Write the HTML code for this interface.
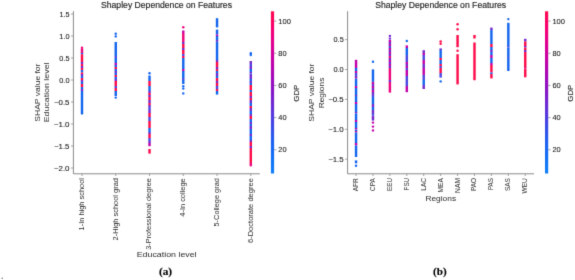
<!DOCTYPE html><html><head><meta charset="utf-8"><style>html,body{margin:0;padding:0;background:#fff;}svg{display:block;will-change:transform;}</style></head><body><svg width="575" height="280" viewBox="0 0 575 280">
<defs><linearGradient id="cb" x1="0" y1="1" x2="0" y2="0"><stop offset="0.000" stop-color="#1280fa"/><stop offset="0.100" stop-color="#1270f6"/><stop offset="0.200" stop-color="#2060f0"/><stop offset="0.300" stop-color="#3e48e6"/><stop offset="0.400" stop-color="#6430d8"/><stop offset="0.500" stop-color="#8418c6"/><stop offset="0.600" stop-color="#a408b8"/><stop offset="0.700" stop-color="#c400a6"/><stop offset="0.800" stop-color="#e00090"/><stop offset="0.900" stop-color="#f80070"/><stop offset="1.000" stop-color="#ff0a50"/></linearGradient><filter id="bl" x="0" y="0" width="575" height="280" filterUnits="userSpaceOnUse" color-interpolation-filters="sRGB"><feConvolveMatrix order="3" kernelMatrix="0.0121 0.0858 0.0121 0.0858 0.608 0.0858 0.0121 0.0858 0.0121" edgeMode="duplicate"/></filter></defs>
<g filter="url(#bl)">
<rect width="575" height="280" fill="#fff"/>
<g font-family='"Liberation Sans", sans-serif'>
<circle cx="82.00" cy="47.80" r="1.2" fill="#ec047c"/>
<rect x="80.80" y="48.50" width="2.4" height="4.50" fill="#ec047c"/>
<rect x="80.80" y="53.00" width="2.4" height="1.20" fill="#1264ee"/>
<rect x="80.80" y="54.20" width="2.4" height="7.80" fill="#ff0848"/>
<rect x="80.80" y="62.00" width="2.4" height="2.00" fill="#7228cc"/>
<rect x="80.80" y="64.00" width="2.4" height="2.00" fill="#ff0848"/>
<rect x="80.80" y="66.00" width="2.4" height="2.00" fill="#7228cc"/>
<rect x="80.80" y="68.00" width="2.4" height="2.00" fill="#ff0848"/>
<rect x="80.80" y="70.00" width="2.4" height="2.50" fill="#1264ee"/>
<rect x="80.80" y="72.50" width="2.4" height="1.50" fill="#ff0848"/>
<rect x="80.80" y="74.00" width="2.4" height="2.00" fill="#7228cc"/>
<rect x="80.80" y="76.00" width="2.4" height="2.00" fill="#1264ee"/>
<rect x="80.80" y="78.00" width="2.4" height="2.00" fill="#ff0848"/>
<rect x="80.80" y="80.00" width="2.4" height="2.00" fill="#7228cc"/>
<rect x="80.80" y="82.00" width="2.4" height="2.00" fill="#1264ee"/>
<rect x="80.80" y="84.00" width="2.4" height="3.00" fill="#ff0848"/>
<rect x="80.80" y="87.00" width="2.4" height="2.00" fill="#1264ee"/>
<rect x="80.80" y="89.00" width="2.4" height="2.00" fill="#7228cc"/>
<rect x="80.80" y="91.00" width="2.4" height="22.00" fill="#1264ee"/>
<circle cx="82.00" cy="113.40" r="1.2" fill="#1264ee"/>
<circle cx="115.76" cy="33.80" r="1.2" fill="#1264ee"/>
<circle cx="115.76" cy="36.40" r="1.2" fill="#1264ee"/>
<rect x="114.56" y="42.00" width="2.4" height="14.00" fill="#1264ee"/>
<rect x="114.56" y="56.00" width="2.4" height="2.00" fill="#4a46e0"/>
<rect x="114.56" y="58.00" width="2.4" height="5.00" fill="#1264ee"/>
<rect x="114.56" y="63.00" width="2.4" height="2.00" fill="#c000a8"/>
<rect x="114.56" y="65.00" width="2.4" height="2.00" fill="#1264ee"/>
<rect x="114.56" y="67.00" width="2.4" height="2.00" fill="#ff0848"/>
<rect x="114.56" y="69.00" width="2.4" height="2.00" fill="#1264ee"/>
<rect x="114.56" y="71.00" width="2.4" height="2.00" fill="#7228cc"/>
<rect x="114.56" y="73.00" width="2.4" height="2.00" fill="#1264ee"/>
<rect x="114.56" y="75.00" width="2.4" height="2.00" fill="#ff0848"/>
<rect x="114.56" y="77.00" width="2.4" height="2.00" fill="#1264ee"/>
<rect x="114.56" y="79.00" width="2.4" height="2.00" fill="#7228cc"/>
<rect x="114.56" y="81.00" width="2.4" height="5.00" fill="#ff0848"/>
<rect x="114.56" y="86.00" width="2.4" height="2.00" fill="#4a46e0"/>
<rect x="114.56" y="88.00" width="2.4" height="3.00" fill="#ff0848"/>
<rect x="114.56" y="91.00" width="2.4" height="5.00" fill="#1264ee"/>
<circle cx="115.76" cy="97.60" r="1.2" fill="#1264ee"/>
<circle cx="149.52" cy="73.20" r="1.2" fill="#1264ee"/>
<rect x="148.32" y="75.50" width="2.4" height="5.50" fill="#1264ee"/>
<rect x="148.32" y="81.00" width="2.4" height="5.00" fill="#ff0848"/>
<rect x="148.32" y="86.00" width="2.4" height="5.00" fill="#1264ee"/>
<rect x="148.32" y="91.00" width="2.4" height="2.00" fill="#7228cc"/>
<rect x="148.32" y="93.00" width="2.4" height="2.00" fill="#ff0848"/>
<rect x="148.32" y="95.00" width="2.4" height="2.00" fill="#7228cc"/>
<rect x="148.32" y="97.00" width="2.4" height="3.00" fill="#ff0848"/>
<rect x="148.32" y="100.00" width="2.4" height="3.00" fill="#7228cc"/>
<rect x="148.32" y="103.00" width="2.4" height="2.00" fill="#ff0848"/>
<rect x="148.32" y="105.00" width="2.4" height="2.00" fill="#7228cc"/>
<rect x="148.32" y="107.00" width="2.4" height="3.00" fill="#4a46e0"/>
<rect x="148.32" y="110.00" width="2.4" height="3.00" fill="#7228cc"/>
<rect x="148.32" y="113.00" width="2.4" height="4.00" fill="#ff0848"/>
<rect x="148.32" y="117.00" width="2.4" height="4.00" fill="#4a46e0"/>
<rect x="148.32" y="121.00" width="2.4" height="7.00" fill="#ff0848"/>
<rect x="148.32" y="128.00" width="2.4" height="4.00" fill="#1264ee"/>
<rect x="148.32" y="132.00" width="2.4" height="2.00" fill="#7228cc"/>
<rect x="148.32" y="134.00" width="2.4" height="4.00" fill="#ff0848"/>
<rect x="148.32" y="138.00" width="2.4" height="3.00" fill="#4a46e0"/>
<rect x="148.32" y="141.00" width="2.4" height="2.00" fill="#7228cc"/>
<rect x="148.32" y="143.00" width="2.4" height="3.20" fill="#c000a8"/>
<rect x="148.32" y="149.00" width="2.4" height="4.60" fill="#ff0848"/>
<circle cx="183.28" cy="27.20" r="1.2" fill="#ec047c"/>
<rect x="182.08" y="30.50" width="2.4" height="2.50" fill="#c000a8"/>
<rect x="182.08" y="33.00" width="2.4" height="9.00" fill="#ec047c"/>
<rect x="182.08" y="42.00" width="2.4" height="2.00" fill="#7228cc"/>
<rect x="182.08" y="44.00" width="2.4" height="4.00" fill="#ff0848"/>
<rect x="182.08" y="48.00" width="2.4" height="2.00" fill="#7228cc"/>
<rect x="182.08" y="50.00" width="2.4" height="4.00" fill="#ff0848"/>
<rect x="182.08" y="54.00" width="2.4" height="2.00" fill="#4a46e0"/>
<rect x="182.08" y="56.00" width="2.4" height="2.00" fill="#ff0848"/>
<rect x="182.08" y="58.00" width="2.4" height="11.00" fill="#1264ee"/>
<rect x="182.08" y="69.00" width="2.4" height="2.00" fill="#c000a8"/>
<rect x="182.08" y="71.00" width="2.4" height="7.00" fill="#1264ee"/>
<rect x="182.08" y="78.00" width="2.4" height="2.00" fill="#4a46e0"/>
<rect x="182.08" y="80.00" width="2.4" height="4.00" fill="#1264ee"/>
<circle cx="183.28" cy="86.20" r="1.2" fill="#1264ee"/>
<circle cx="183.28" cy="88.60" r="1.2" fill="#1264ee"/>
<circle cx="183.28" cy="93.40" r="1.2" fill="#1264ee"/>
<rect x="215.84" y="18.20" width="2.4" height="9.20" fill="#1264ee"/>
<rect x="215.84" y="29.60" width="2.4" height="4.90" fill="#1264ee"/>
<rect x="215.84" y="34.50" width="2.4" height="1.50" fill="#c000a8"/>
<rect x="215.84" y="36.00" width="2.4" height="4.00" fill="#1264ee"/>
<rect x="215.84" y="40.00" width="2.4" height="1.80" fill="#7228cc"/>
<rect x="215.84" y="41.80" width="2.4" height="18.20" fill="#1264ee"/>
<rect x="215.84" y="60.00" width="2.4" height="2.00" fill="#7228cc"/>
<rect x="215.84" y="62.00" width="2.4" height="5.00" fill="#ff0848"/>
<rect x="215.84" y="67.00" width="2.4" height="2.00" fill="#7228cc"/>
<rect x="215.84" y="69.00" width="2.4" height="2.00" fill="#ff0848"/>
<rect x="215.84" y="71.00" width="2.4" height="2.00" fill="#1264ee"/>
<rect x="215.84" y="73.00" width="2.4" height="3.00" fill="#7228cc"/>
<rect x="215.84" y="76.00" width="2.4" height="2.00" fill="#1264ee"/>
<rect x="215.84" y="78.00" width="2.4" height="3.00" fill="#ff0848"/>
<rect x="215.84" y="81.00" width="2.4" height="2.00" fill="#7228cc"/>
<rect x="215.84" y="83.00" width="2.4" height="3.00" fill="#ff0848"/>
<rect x="215.84" y="86.00" width="2.4" height="3.00" fill="#4a46e0"/>
<rect x="215.84" y="89.00" width="2.4" height="2.00" fill="#ff0848"/>
<rect x="215.84" y="91.00" width="2.4" height="3.60" fill="#1264ee"/>
<circle cx="250.80" cy="53.20" r="1.2" fill="#1264ee"/>
<circle cx="250.80" cy="55.00" r="1.2" fill="#1264ee"/>
<rect x="249.60" y="61.00" width="2.4" height="3.00" fill="#7228cc"/>
<rect x="249.60" y="64.00" width="2.4" height="2.00" fill="#4a46e0"/>
<rect x="249.60" y="66.00" width="2.4" height="3.00" fill="#7228cc"/>
<rect x="249.60" y="69.00" width="2.4" height="3.00" fill="#1264ee"/>
<rect x="249.60" y="72.00" width="2.4" height="1.50" fill="#7228cc"/>
<rect x="249.60" y="73.50" width="2.4" height="1.50" fill="#4a46e0"/>
<rect x="249.60" y="75.00" width="2.4" height="4.00" fill="#7228cc"/>
<rect x="249.60" y="79.00" width="2.4" height="2.00" fill="#1264ee"/>
<rect x="249.60" y="81.00" width="2.4" height="2.00" fill="#7228cc"/>
<rect x="249.60" y="83.00" width="2.4" height="2.00" fill="#1264ee"/>
<rect x="249.60" y="85.00" width="2.4" height="5.00" fill="#ff0848"/>
<rect x="249.60" y="90.00" width="2.4" height="2.00" fill="#1264ee"/>
<rect x="249.60" y="92.00" width="2.4" height="4.00" fill="#ff0848"/>
<rect x="249.60" y="96.00" width="2.4" height="2.00" fill="#7228cc"/>
<rect x="249.60" y="98.00" width="2.4" height="2.00" fill="#ff0848"/>
<rect x="249.60" y="100.00" width="2.4" height="3.00" fill="#7228cc"/>
<rect x="249.60" y="103.00" width="2.4" height="3.00" fill="#1264ee"/>
<rect x="249.60" y="106.00" width="2.4" height="2.00" fill="#ff0848"/>
<rect x="249.60" y="108.00" width="2.4" height="3.00" fill="#7228cc"/>
<rect x="249.60" y="111.00" width="2.4" height="3.00" fill="#1264ee"/>
<rect x="249.60" y="114.00" width="2.4" height="2.00" fill="#7228cc"/>
<rect x="249.60" y="116.00" width="2.4" height="3.00" fill="#ff0848"/>
<rect x="249.60" y="119.00" width="2.4" height="3.00" fill="#1264ee"/>
<rect x="249.60" y="122.00" width="2.4" height="2.00" fill="#7228cc"/>
<rect x="249.60" y="124.00" width="2.4" height="2.00" fill="#1264ee"/>
<rect x="249.60" y="126.00" width="2.4" height="3.00" fill="#7228cc"/>
<rect x="249.60" y="129.00" width="2.4" height="5.00" fill="#1264ee"/>
<rect x="249.60" y="134.00" width="2.4" height="2.00" fill="#7228cc"/>
<rect x="249.60" y="136.00" width="2.4" height="4.00" fill="#1264ee"/>
<rect x="249.60" y="140.00" width="2.4" height="2.00" fill="#7228cc"/>
<rect x="249.60" y="142.00" width="2.4" height="4.00" fill="#ff0848"/>
<rect x="249.60" y="146.00" width="2.4" height="2.00" fill="#7228cc"/>
<rect x="249.60" y="148.00" width="2.4" height="15.00" fill="#ff0848"/>
<rect x="249.60" y="163.00" width="2.4" height="3.30" fill="#ec047c"/>
<rect x="354.85" y="59.80" width="2.4" height="8.20" fill="#c000a8"/>
<rect x="354.85" y="68.00" width="2.4" height="3.00" fill="#1264ee"/>
<rect x="354.85" y="71.00" width="2.4" height="2.00" fill="#c000a8"/>
<rect x="354.85" y="73.00" width="2.4" height="4.00" fill="#4a46e0"/>
<rect x="354.85" y="77.00" width="2.4" height="1.50" fill="#c000a8"/>
<rect x="354.85" y="78.50" width="2.4" height="7.50" fill="#1264ee"/>
<rect x="354.85" y="86.00" width="2.4" height="2.00" fill="#c000a8"/>
<rect x="354.85" y="88.00" width="2.4" height="7.00" fill="#1264ee"/>
<rect x="354.85" y="95.00" width="2.4" height="1.00" fill="#7228cc"/>
<rect x="354.85" y="96.00" width="2.4" height="6.00" fill="#1264ee"/>
<rect x="354.85" y="102.00" width="2.4" height="2.00" fill="#c000a8"/>
<rect x="354.85" y="104.00" width="2.4" height="8.00" fill="#1264ee"/>
<rect x="354.85" y="112.00" width="2.4" height="1.50" fill="#7228cc"/>
<rect x="354.85" y="113.50" width="2.4" height="6.50" fill="#1264ee"/>
<rect x="354.85" y="120.00" width="2.4" height="2.00" fill="#c000a8"/>
<rect x="354.85" y="122.00" width="2.4" height="6.00" fill="#1264ee"/>
<rect x="354.85" y="128.00" width="2.4" height="1.50" fill="#c000a8"/>
<rect x="354.85" y="129.50" width="2.4" height="1.50" fill="#1264ee"/>
<rect x="354.85" y="131.00" width="2.4" height="1.50" fill="#c000a8"/>
<rect x="354.85" y="132.50" width="2.4" height="10.50" fill="#1264ee"/>
<rect x="354.85" y="143.00" width="2.4" height="2.50" fill="#c000a8"/>
<rect x="354.85" y="145.50" width="2.4" height="11.50" fill="#1264ee"/>
<rect x="354.85" y="160.40" width="2.4" height="2.90" fill="#1264ee"/>
<circle cx="356.05" cy="165.80" r="1.2" fill="#1264ee"/>
<circle cx="372.97" cy="61.80" r="1.2" fill="#1264ee"/>
<rect x="371.77" y="69.40" width="2.4" height="12.40" fill="#1264ee"/>
<rect x="371.77" y="81.80" width="2.4" height="2.20" fill="#c000a8"/>
<rect x="371.77" y="84.00" width="2.4" height="2.00" fill="#7228cc"/>
<rect x="371.77" y="86.00" width="2.4" height="2.00" fill="#c000a8"/>
<rect x="371.77" y="88.00" width="2.4" height="2.00" fill="#7228cc"/>
<rect x="371.77" y="90.00" width="2.4" height="2.00" fill="#c000a8"/>
<rect x="371.77" y="92.00" width="2.4" height="3.00" fill="#7228cc"/>
<rect x="371.77" y="95.00" width="2.4" height="2.00" fill="#4a46e0"/>
<rect x="371.77" y="97.00" width="2.4" height="7.00" fill="#1264ee"/>
<rect x="371.77" y="104.00" width="2.4" height="3.00" fill="#7228cc"/>
<rect x="371.77" y="107.00" width="2.4" height="3.00" fill="#1264ee"/>
<rect x="371.77" y="110.00" width="2.4" height="3.00" fill="#7228cc"/>
<rect x="371.77" y="113.00" width="2.4" height="2.50" fill="#4a46e0"/>
<rect x="371.77" y="115.50" width="2.4" height="5.10" fill="#7228cc"/>
<circle cx="372.97" cy="122.60" r="1.2" fill="#c000a8"/>
<circle cx="372.97" cy="126.60" r="1.2" fill="#c000a8"/>
<circle cx="372.97" cy="130.40" r="1.2" fill="#c000a8"/>
<circle cx="389.89" cy="36.00" r="1.2" fill="#7228cc"/>
<circle cx="389.89" cy="38.60" r="1.2" fill="#7228cc"/>
<rect x="388.69" y="40.00" width="2.4" height="2.00" fill="#c000a8"/>
<rect x="388.69" y="42.00" width="2.4" height="2.00" fill="#7228cc"/>
<rect x="388.69" y="44.00" width="2.4" height="2.00" fill="#c000a8"/>
<rect x="388.69" y="46.00" width="2.4" height="2.00" fill="#4a46e0"/>
<rect x="388.69" y="48.00" width="2.4" height="2.00" fill="#c000a8"/>
<rect x="388.69" y="50.00" width="2.4" height="2.00" fill="#7228cc"/>
<rect x="388.69" y="52.00" width="2.4" height="2.00" fill="#c000a8"/>
<rect x="388.69" y="54.00" width="2.4" height="2.00" fill="#7228cc"/>
<rect x="388.69" y="56.00" width="2.4" height="2.00" fill="#ec047c"/>
<rect x="388.69" y="58.00" width="2.4" height="2.00" fill="#7228cc"/>
<rect x="388.69" y="60.00" width="2.4" height="2.00" fill="#c000a8"/>
<rect x="388.69" y="62.00" width="2.4" height="2.00" fill="#7228cc"/>
<rect x="388.69" y="64.00" width="2.4" height="2.00" fill="#c000a8"/>
<rect x="388.69" y="66.00" width="2.4" height="2.00" fill="#7228cc"/>
<rect x="388.69" y="68.00" width="2.4" height="12.00" fill="#ec047c"/>
<rect x="388.69" y="80.00" width="2.4" height="2.00" fill="#7228cc"/>
<rect x="388.69" y="82.00" width="2.4" height="10.60" fill="#ec047c"/>
<circle cx="406.81" cy="41.00" r="1.2" fill="#1264ee"/>
<rect x="405.61" y="45.40" width="2.4" height="2.60" fill="#c000a8"/>
<rect x="405.61" y="48.00" width="2.4" height="7.00" fill="#1264ee"/>
<rect x="405.61" y="55.00" width="2.4" height="7.00" fill="#4a46e0"/>
<rect x="405.61" y="62.00" width="2.4" height="2.00" fill="#c000a8"/>
<rect x="405.61" y="64.00" width="2.4" height="2.00" fill="#7228cc"/>
<rect x="405.61" y="66.00" width="2.4" height="2.00" fill="#c000a8"/>
<rect x="405.61" y="68.00" width="2.4" height="2.00" fill="#4a46e0"/>
<rect x="405.61" y="70.00" width="2.4" height="2.00" fill="#c000a8"/>
<rect x="405.61" y="72.00" width="2.4" height="4.00" fill="#c000a8"/>
<rect x="405.61" y="76.00" width="2.4" height="10.00" fill="#4a46e0"/>
<rect x="405.61" y="86.00" width="2.4" height="6.20" fill="#c000a8"/>
<rect x="422.53" y="50.20" width="2.4" height="2.80" fill="#7228cc"/>
<rect x="422.53" y="53.00" width="2.4" height="2.00" fill="#c000a8"/>
<rect x="422.53" y="55.00" width="2.4" height="5.00" fill="#4a46e0"/>
<rect x="422.53" y="60.00" width="2.4" height="4.00" fill="#c000a8"/>
<rect x="422.53" y="64.00" width="2.4" height="4.00" fill="#7228cc"/>
<rect x="422.53" y="68.00" width="2.4" height="7.00" fill="#c000a8"/>
<rect x="422.53" y="75.00" width="2.4" height="5.00" fill="#4a46e0"/>
<rect x="422.53" y="80.00" width="2.4" height="5.00" fill="#1264ee"/>
<rect x="422.53" y="85.00" width="2.4" height="4.00" fill="#7228cc"/>
<circle cx="440.65" cy="41.40" r="1.2" fill="#ff0848"/>
<circle cx="440.65" cy="43.80" r="1.2" fill="#ff0848"/>
<rect x="439.45" y="48.40" width="2.4" height="1.60" fill="#7228cc"/>
<rect x="439.45" y="50.00" width="2.4" height="8.00" fill="#1264ee"/>
<rect x="439.45" y="58.00" width="2.4" height="2.00" fill="#ff0848"/>
<rect x="439.45" y="60.00" width="2.4" height="4.00" fill="#1264ee"/>
<rect x="439.45" y="64.00" width="2.4" height="2.00" fill="#ff0848"/>
<rect x="439.45" y="66.00" width="2.4" height="2.00" fill="#4a46e0"/>
<rect x="439.45" y="68.00" width="2.4" height="5.00" fill="#ff0848"/>
<rect x="439.45" y="73.00" width="2.4" height="4.60" fill="#4a46e0"/>
<circle cx="440.65" cy="81.40" r="1.2" fill="#1264ee"/>
<circle cx="457.57" cy="24.30" r="1.2" fill="#ff0848"/>
<circle cx="457.57" cy="29.20" r="1.2" fill="#ff0848"/>
<rect x="456.37" y="35.00" width="2.4" height="12.20" fill="#ff0848"/>
<circle cx="457.57" cy="50.70" r="1.2" fill="#ff0848"/>
<rect x="456.37" y="54.20" width="2.4" height="30.20" fill="#ff0848"/>
<rect x="473.29" y="35.00" width="2.4" height="3.50" fill="#ff0848"/>
<rect x="473.29" y="42.50" width="2.4" height="37.70" fill="#ff0848"/>
<rect x="490.21" y="27.60" width="2.4" height="2.40" fill="#7228cc"/>
<rect x="490.21" y="30.00" width="2.4" height="14.00" fill="#1264ee"/>
<rect x="490.21" y="44.00" width="2.4" height="3.00" fill="#ff0848"/>
<rect x="490.21" y="47.00" width="2.4" height="3.00" fill="#1264ee"/>
<rect x="490.21" y="50.00" width="2.4" height="2.00" fill="#7228cc"/>
<rect x="490.21" y="52.00" width="2.4" height="3.00" fill="#1264ee"/>
<rect x="490.21" y="55.00" width="2.4" height="3.00" fill="#c000a8"/>
<rect x="490.21" y="58.00" width="2.4" height="5.00" fill="#1264ee"/>
<rect x="490.21" y="63.00" width="2.4" height="2.00" fill="#c000a8"/>
<rect x="490.21" y="65.00" width="2.4" height="7.50" fill="#ff0848"/>
<rect x="490.21" y="72.50" width="2.4" height="1.50" fill="#1264ee"/>
<rect x="490.21" y="74.00" width="2.4" height="4.40" fill="#ff0848"/>
<circle cx="508.33" cy="19.10" r="1.2" fill="#1264ee"/>
<rect x="507.13" y="22.80" width="2.4" height="23.20" fill="#1264ee"/>
<rect x="507.13" y="46.00" width="2.4" height="1.50" fill="#4a46e0"/>
<rect x="507.13" y="47.50" width="2.4" height="9.50" fill="#1264ee"/>
<rect x="507.13" y="57.00" width="2.4" height="1.00" fill="#4a46e0"/>
<rect x="507.13" y="58.00" width="2.4" height="13.00" fill="#1264ee"/>
<rect x="524.05" y="38.80" width="2.4" height="2.80" fill="#7228cc"/>
<rect x="524.05" y="41.60" width="2.4" height="4.40" fill="#ff0848"/>
<rect x="524.05" y="46.00" width="2.4" height="1.50" fill="#7228cc"/>
<rect x="524.05" y="47.50" width="2.4" height="2.50" fill="#ff0848"/>
<rect x="524.05" y="50.00" width="2.4" height="2.00" fill="#7228cc"/>
<rect x="524.05" y="52.00" width="2.4" height="15.00" fill="#ff0848"/>
<rect x="524.05" y="67.00" width="2.4" height="1.50" fill="#ec047c"/>
<rect x="524.05" y="68.50" width="2.4" height="8.80" fill="#ff0848"/>
<path d="M73.40 11.2 V173.8 H259.80" stroke="#8a8a8a" stroke-width="1" fill="none"/>
<path d="M347.60 11.2 V173.8 H534.00" stroke="#8a8a8a" stroke-width="1" fill="none"/>
<line x1="71.00" y1="14.00" x2="73.40" y2="14.00" stroke="#8a8a8a" stroke-width="0.8"/>
<line x1="71.00" y1="36.00" x2="73.40" y2="36.00" stroke="#8a8a8a" stroke-width="0.8"/>
<line x1="71.00" y1="58.00" x2="73.40" y2="58.00" stroke="#8a8a8a" stroke-width="0.8"/>
<line x1="71.00" y1="80.00" x2="73.40" y2="80.00" stroke="#8a8a8a" stroke-width="0.8"/>
<line x1="71.00" y1="102.00" x2="73.40" y2="102.00" stroke="#8a8a8a" stroke-width="0.8"/>
<line x1="71.00" y1="124.00" x2="73.40" y2="124.00" stroke="#8a8a8a" stroke-width="0.8"/>
<line x1="71.00" y1="146.00" x2="73.40" y2="146.00" stroke="#8a8a8a" stroke-width="0.8"/>
<line x1="71.00" y1="168.00" x2="73.40" y2="168.00" stroke="#8a8a8a" stroke-width="0.8"/>
<line x1="345.20" y1="39.60" x2="347.60" y2="39.60" stroke="#8a8a8a" stroke-width="0.8"/>
<line x1="345.20" y1="69.50" x2="347.60" y2="69.50" stroke="#8a8a8a" stroke-width="0.8"/>
<line x1="345.20" y1="99.40" x2="347.60" y2="99.40" stroke="#8a8a8a" stroke-width="0.8"/>
<line x1="345.20" y1="129.30" x2="347.60" y2="129.30" stroke="#8a8a8a" stroke-width="0.8"/>
<line x1="345.20" y1="159.20" x2="347.60" y2="159.20" stroke="#8a8a8a" stroke-width="0.8"/>
<line x1="82.00" y1="173.8" x2="82.00" y2="176.0" stroke="#8a8a8a" stroke-width="0.8"/>
<line x1="115.76" y1="173.8" x2="115.76" y2="176.0" stroke="#8a8a8a" stroke-width="0.8"/>
<line x1="149.52" y1="173.8" x2="149.52" y2="176.0" stroke="#8a8a8a" stroke-width="0.8"/>
<line x1="183.28" y1="173.8" x2="183.28" y2="176.0" stroke="#8a8a8a" stroke-width="0.8"/>
<line x1="217.04" y1="173.8" x2="217.04" y2="176.0" stroke="#8a8a8a" stroke-width="0.8"/>
<line x1="250.80" y1="173.8" x2="250.80" y2="176.0" stroke="#8a8a8a" stroke-width="0.8"/>
<line x1="356.05" y1="173.8" x2="356.05" y2="176.0" stroke="#8a8a8a" stroke-width="0.8"/>
<line x1="372.97" y1="173.8" x2="372.97" y2="176.0" stroke="#8a8a8a" stroke-width="0.8"/>
<line x1="389.89" y1="173.8" x2="389.89" y2="176.0" stroke="#8a8a8a" stroke-width="0.8"/>
<line x1="406.81" y1="173.8" x2="406.81" y2="176.0" stroke="#8a8a8a" stroke-width="0.8"/>
<line x1="423.73" y1="173.8" x2="423.73" y2="176.0" stroke="#8a8a8a" stroke-width="0.8"/>
<line x1="440.65" y1="173.8" x2="440.65" y2="176.0" stroke="#8a8a8a" stroke-width="0.8"/>
<line x1="457.57" y1="173.8" x2="457.57" y2="176.0" stroke="#8a8a8a" stroke-width="0.8"/>
<line x1="474.49" y1="173.8" x2="474.49" y2="176.0" stroke="#8a8a8a" stroke-width="0.8"/>
<line x1="491.41" y1="173.8" x2="491.41" y2="176.0" stroke="#8a8a8a" stroke-width="0.8"/>
<line x1="508.33" y1="173.8" x2="508.33" y2="176.0" stroke="#8a8a8a" stroke-width="0.8"/>
<line x1="525.25" y1="173.8" x2="525.25" y2="176.0" stroke="#8a8a8a" stroke-width="0.8"/>
<rect x="270.90" y="11.3" width="3.2" height="162.2" fill="url(#cb)"/>
<line x1="274.10" y1="21.10" x2="276.30" y2="21.10" stroke="#8a8a8a" stroke-width="0.8"/>
<text x="278.30" y="23.60" font-size="7.0" text-anchor="start" fill="#161616" stroke="#161616" stroke-width="0.08" textLength="12.55" lengthAdjust="spacingAndGlyphs">100</text>
<line x1="274.10" y1="53.26" x2="276.30" y2="53.26" stroke="#8a8a8a" stroke-width="0.8"/>
<text x="278.30" y="55.76" font-size="7.0" text-anchor="start" fill="#161616" stroke="#161616" stroke-width="0.08" textLength="8.26" lengthAdjust="spacingAndGlyphs">80</text>
<line x1="274.10" y1="85.42" x2="276.30" y2="85.42" stroke="#8a8a8a" stroke-width="0.8"/>
<text x="278.30" y="87.92" font-size="7.0" text-anchor="start" fill="#161616" stroke="#161616" stroke-width="0.08" textLength="8.32" lengthAdjust="spacingAndGlyphs">60</text>
<line x1="274.10" y1="117.58" x2="276.30" y2="117.58" stroke="#8a8a8a" stroke-width="0.8"/>
<text x="278.30" y="120.08" font-size="7.0" text-anchor="start" fill="#161616" stroke="#161616" stroke-width="0.08" textLength="8.24" lengthAdjust="spacingAndGlyphs">40</text>
<line x1="274.10" y1="149.74" x2="276.30" y2="149.74" stroke="#8a8a8a" stroke-width="0.8"/>
<text x="278.30" y="152.24" font-size="7.0" text-anchor="start" fill="#161616" stroke="#161616" stroke-width="0.08" textLength="8.3" lengthAdjust="spacingAndGlyphs">20</text>
<rect x="545.00" y="11.3" width="3.2" height="162.2" fill="url(#cb)"/>
<line x1="548.20" y1="21.10" x2="550.40" y2="21.10" stroke="#8a8a8a" stroke-width="0.8"/>
<text x="552.40" y="23.60" font-size="7.0" text-anchor="start" fill="#161616" stroke="#161616" stroke-width="0.08" textLength="12.55" lengthAdjust="spacingAndGlyphs">100</text>
<line x1="548.20" y1="53.26" x2="550.40" y2="53.26" stroke="#8a8a8a" stroke-width="0.8"/>
<text x="552.40" y="55.76" font-size="7.0" text-anchor="start" fill="#161616" stroke="#161616" stroke-width="0.08" textLength="8.26" lengthAdjust="spacingAndGlyphs">80</text>
<line x1="548.20" y1="85.42" x2="550.40" y2="85.42" stroke="#8a8a8a" stroke-width="0.8"/>
<text x="552.40" y="87.92" font-size="7.0" text-anchor="start" fill="#161616" stroke="#161616" stroke-width="0.08" textLength="8.32" lengthAdjust="spacingAndGlyphs">60</text>
<line x1="548.20" y1="117.58" x2="550.40" y2="117.58" stroke="#8a8a8a" stroke-width="0.8"/>
<text x="552.40" y="120.08" font-size="7.0" text-anchor="start" fill="#161616" stroke="#161616" stroke-width="0.08" textLength="8.24" lengthAdjust="spacingAndGlyphs">40</text>
<line x1="548.20" y1="149.74" x2="550.40" y2="149.74" stroke="#8a8a8a" stroke-width="0.8"/>
<text x="552.40" y="152.24" font-size="7.0" text-anchor="start" fill="#161616" stroke="#161616" stroke-width="0.08" textLength="8.3" lengthAdjust="spacingAndGlyphs">20</text>
<text x="69.50" y="16.50" font-size="7.0" text-anchor="end" fill="#161616" stroke="#161616" stroke-width="0.08" textLength="10.09" lengthAdjust="spacingAndGlyphs">1.5</text>
<text x="69.50" y="38.50" font-size="7.0" text-anchor="end" fill="#161616" stroke="#161616" stroke-width="0.08" textLength="10.2" lengthAdjust="spacingAndGlyphs">1.0</text>
<text x="69.50" y="60.50" font-size="7.0" text-anchor="end" fill="#161616" stroke="#161616" stroke-width="0.08" textLength="10.13" lengthAdjust="spacingAndGlyphs">0.5</text>
<text x="69.50" y="82.50" font-size="7.0" text-anchor="end" fill="#161616" stroke="#161616" stroke-width="0.08" textLength="10.23" lengthAdjust="spacingAndGlyphs">0.0</text>
<text x="69.50" y="104.50" font-size="7.0" text-anchor="end" fill="#161616" stroke="#161616" stroke-width="0.08" textLength="15.54" lengthAdjust="spacingAndGlyphs">−0.5</text>
<text x="69.50" y="126.50" font-size="7.0" text-anchor="end" fill="#161616" stroke="#161616" stroke-width="0.08" textLength="15.65" lengthAdjust="spacingAndGlyphs">−1.0</text>
<text x="69.50" y="148.50" font-size="7.0" text-anchor="end" fill="#161616" stroke="#161616" stroke-width="0.08" textLength="15.54" lengthAdjust="spacingAndGlyphs">−1.5</text>
<text x="69.50" y="170.50" font-size="7.0" text-anchor="end" fill="#161616" stroke="#161616" stroke-width="0.08" textLength="15.65" lengthAdjust="spacingAndGlyphs">−2.0</text>
<text x="343.70" y="42.10" font-size="7.0" text-anchor="end" fill="#161616" stroke="#161616" stroke-width="0.08" textLength="10.13" lengthAdjust="spacingAndGlyphs">0.5</text>
<text x="343.70" y="72.00" font-size="7.0" text-anchor="end" fill="#161616" stroke="#161616" stroke-width="0.08" textLength="10.23" lengthAdjust="spacingAndGlyphs">0.0</text>
<text x="343.70" y="101.90" font-size="7.0" text-anchor="end" fill="#161616" stroke="#161616" stroke-width="0.08" textLength="15.54" lengthAdjust="spacingAndGlyphs">−0.5</text>
<text x="343.70" y="131.80" font-size="7.0" text-anchor="end" fill="#161616" stroke="#161616" stroke-width="0.08" textLength="15.65" lengthAdjust="spacingAndGlyphs">−1.0</text>
<text x="343.70" y="161.70" font-size="7.0" text-anchor="end" fill="#161616" stroke="#161616" stroke-width="0.08" textLength="15.54" lengthAdjust="spacingAndGlyphs">−1.5</text>
<text x="166.50" y="8.15" font-size="8.3" text-anchor="middle" fill="#1e1e1e" stroke="#1e1e1e" stroke-width="0.15" textLength="130.95" lengthAdjust="spacingAndGlyphs">Shapley Dependence on Features</text>
<text x="440.70" y="8.15" font-size="8.3" text-anchor="middle" fill="#1e1e1e" stroke="#1e1e1e" stroke-width="0.15" textLength="130.95" lengthAdjust="spacingAndGlyphs">Shapley Dependence on Features</text>
<text x="83.90" y="204.21" font-size="7.0" text-anchor="middle" fill="#2a2a2a" textLength="52.46" lengthAdjust="spacingAndGlyphs" transform="rotate(-90 83.9 204.210546875)">1-In high school</text>
<text x="117.66" y="209.26" font-size="7.0" text-anchor="middle" fill="#2a2a2a" textLength="62.34" lengthAdjust="spacingAndGlyphs" transform="rotate(-90 117.66 209.2648578125)">2-High school grad</text>
<text x="151.42" y="214.02" font-size="7.0" text-anchor="middle" fill="#2a2a2a" textLength="71.62" lengthAdjust="spacingAndGlyphs" transform="rotate(-90 151.42 214.019590625)">3-Professional degree</text>
<text x="185.18" y="197.50" font-size="7.0" text-anchor="middle" fill="#2a2a2a" textLength="38.45" lengthAdjust="spacingAndGlyphs" transform="rotate(-90 185.18 197.5038875)">4-In college</text>
<text x="218.94" y="202.31" font-size="7.0" text-anchor="middle" fill="#2a2a2a" textLength="48.35" lengthAdjust="spacingAndGlyphs" transform="rotate(-90 218.94 202.30874453125)">5-College grad</text>
<text x="252.70" y="210.58" font-size="7.0" text-anchor="middle" fill="#2a2a2a" textLength="64.85" lengthAdjust="spacingAndGlyphs" transform="rotate(-90 252.7 210.57969453125)">6-Doctorate degree</text>
<text x="358.05" y="184.77" font-size="7.0" text-anchor="middle" fill="#2a2a2a" textLength="13.03" lengthAdjust="spacingAndGlyphs" transform="rotate(-90 358.05 184.76629453125)">AFR</text>
<text x="374.97" y="184.57" font-size="7.0" text-anchor="middle" fill="#2a2a2a" textLength="12.66" lengthAdjust="spacingAndGlyphs" transform="rotate(-90 374.97 184.56592734375002)">CPA</text>
<text x="391.89" y="184.41" font-size="7.0" text-anchor="middle" fill="#2a2a2a" textLength="13.01" lengthAdjust="spacingAndGlyphs" transform="rotate(-90 391.89 184.411015625)">EEU</text>
<text x="408.81" y="184.17" font-size="7.0" text-anchor="middle" fill="#2a2a2a" textLength="12.52" lengthAdjust="spacingAndGlyphs" transform="rotate(-90 408.81 184.1745953125)">FSU</text>
<text x="425.73" y="184.35" font-size="7.0" text-anchor="middle" fill="#2a2a2a" textLength="12.65" lengthAdjust="spacingAndGlyphs" transform="rotate(-90 425.73 184.34993281250001)">LAC</text>
<text x="442.65" y="185.28" font-size="7.0" text-anchor="middle" fill="#2a2a2a" textLength="14.3" lengthAdjust="spacingAndGlyphs" transform="rotate(-90 442.65000000000003 185.27998671875)">MEA</text>
<text x="459.57" y="185.37" font-size="7.0" text-anchor="middle" fill="#2a2a2a" textLength="15.04" lengthAdjust="spacingAndGlyphs" transform="rotate(-90 459.57000000000005 185.36921171875)">NAM</text>
<text x="476.49" y="184.50" font-size="7.0" text-anchor="middle" fill="#2a2a2a" textLength="13.02" lengthAdjust="spacingAndGlyphs" transform="rotate(-90 476.49 184.504390625)">PAO</text>
<text x="493.41" y="184.06" font-size="7.0" text-anchor="middle" fill="#2a2a2a" textLength="12.11" lengthAdjust="spacingAndGlyphs" transform="rotate(-90 493.41 184.05826562500002)">PAS</text>
<text x="510.33" y="184.54" font-size="7.0" text-anchor="middle" fill="#2a2a2a" textLength="12.87" lengthAdjust="spacingAndGlyphs" transform="rotate(-90 510.33000000000004 184.54439921875002)">SAS</text>
<text x="527.25" y="185.81" font-size="7.0" text-anchor="middle" fill="#2a2a2a" textLength="15.37" lengthAdjust="spacingAndGlyphs" transform="rotate(-90 527.25 185.81131640625)">WEU</text>
<text x="166.65" y="257.20" font-size="8.0" text-anchor="middle" fill="#2a2a2a" textLength="59.89" lengthAdjust="spacingAndGlyphs">Education level</text>
<text x="440.75" y="201.30" font-size="8.0" text-anchor="middle" fill="#2a2a2a" textLength="30.69" lengthAdjust="spacingAndGlyphs">Regions</text>
<text x="40.30" y="92.60" font-size="8.0" text-anchor="middle" fill="#2a2a2a" textLength="58.05" lengthAdjust="spacingAndGlyphs" transform="rotate(-90 40.3 92.6)">SHAP value for</text>
<text x="49.00" y="92.40" font-size="8.0" text-anchor="middle" fill="#2a2a2a" textLength="59.89" lengthAdjust="spacingAndGlyphs" transform="rotate(-90 49.0 92.4)">Education level</text>
<text x="314.50" y="92.60" font-size="8.0" text-anchor="middle" fill="#2a2a2a" textLength="58.05" lengthAdjust="spacingAndGlyphs" transform="rotate(-90 314.5 92.6)">SHAP value for</text>
<text x="324.00" y="93.00" font-size="8.0" text-anchor="middle" fill="#2a2a2a" textLength="30.69" lengthAdjust="spacingAndGlyphs" transform="rotate(-90 324.0 93.0)">Regions</text>
<text x="299.00" y="93.20" font-size="8.0" text-anchor="middle" fill="#1e1e1e" stroke="#1e1e1e" stroke-width="0.12" textLength="16.91" lengthAdjust="spacingAndGlyphs" transform="rotate(-90 299.0 93.2)">GDP</text>
<text x="573.20" y="93.20" font-size="8.0" text-anchor="middle" fill="#1e1e1e" stroke="#1e1e1e" stroke-width="0.12" textLength="16.91" lengthAdjust="spacingAndGlyphs" transform="rotate(-90 573.2 93.2)">GDP</text>
</g>
<g font-family="'Liberation Serif', serif" font-weight="bold" fill="#000">
<text x="165.50" y="274.50" font-size="11.3" text-anchor="middle" fill="#000" stroke="#000" stroke-width="0.15" textLength="13.2" lengthAdjust="spacingAndGlyphs">(a)</text>
<text x="439.80" y="274.50" font-size="11.3" text-anchor="middle" fill="#000" stroke="#000" stroke-width="0.15" textLength="13.6" lengthAdjust="spacingAndGlyphs">(b)</text>
</g>
<circle cx="2.2" cy="278.2" r="0.8" fill="#777"/>
</g>
</svg></body></html>
